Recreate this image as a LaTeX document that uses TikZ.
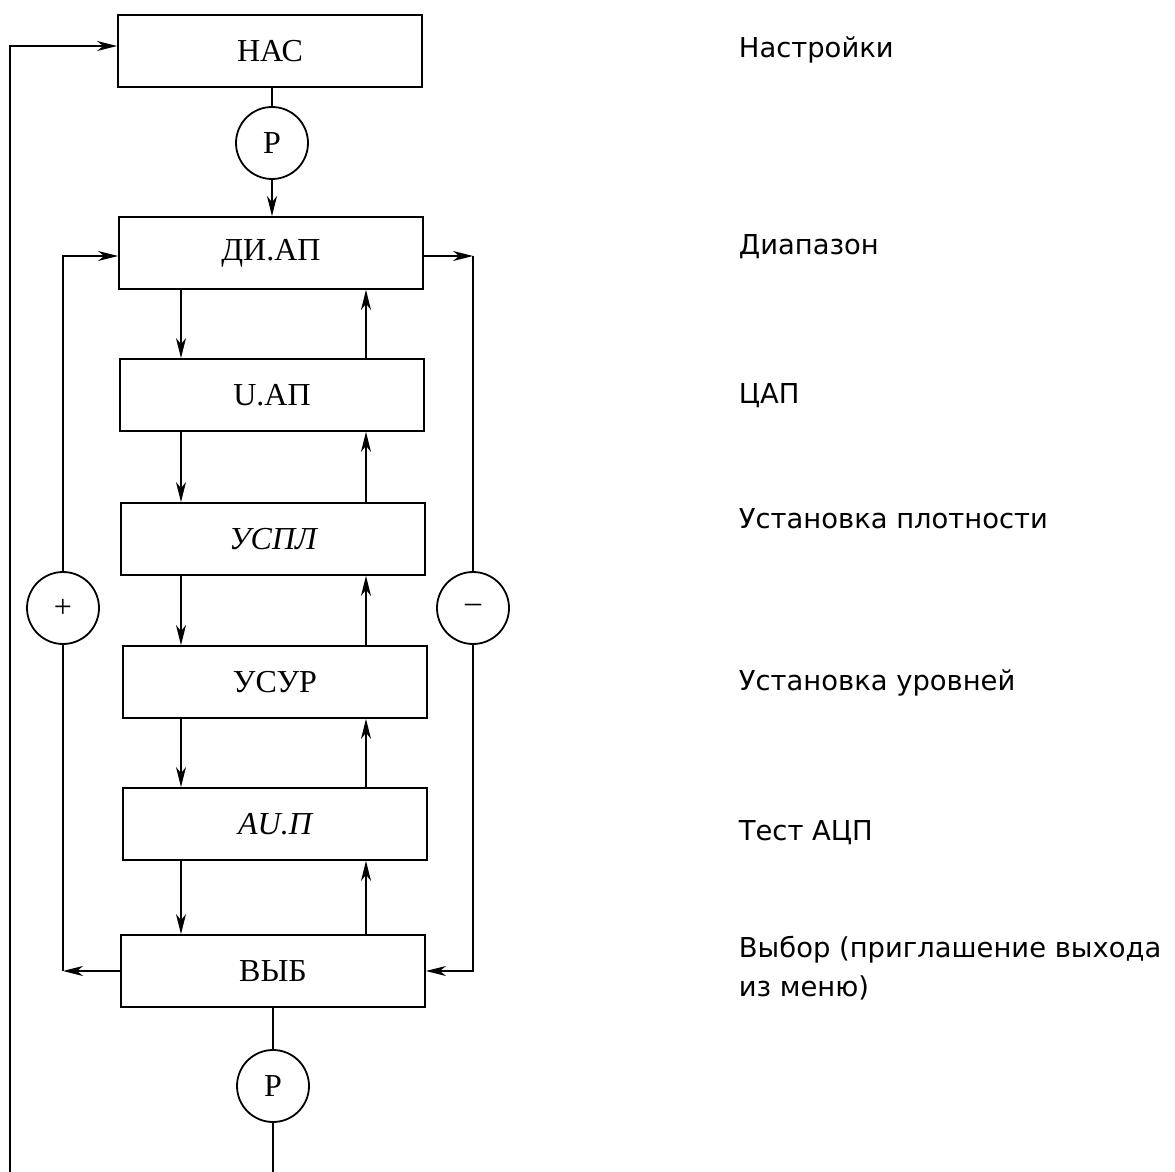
\documentclass[tikz,border=0pt]{standalone}
\usepackage{fontspec}
\setmainfont{Liberation Serif}
\newfontfamily\labfont{DejaVu Sans}
\usetikzlibrary{arrows.meta,calc}
\tikzset{
  box/.style={draw, line width=0.9pt, minimum width=152pt, minimum height=36pt, inner sep=0pt, font=\fontsize{16}{18}\selectfont},
  circ/.style={draw, circle, line width=0.9pt, minimum size=36pt, inner sep=0pt, font=\fontsize{16}{18}\selectfont},
  lab/.style={anchor=base west, inner sep=0pt, font=\labfont\fontsize{13.7}{19.5}\selectfont, align=left},
  arr/.style={-{Stealth[length=10pt,width=5pt,inset=3pt]}},
}
\begin{document}
\begin{tikzpicture}[x=0.5pt,y=-0.5pt, line width=0.9pt]
\useasboundingbox (0,0) rectangle (1175,1172);
\clip (0,0) rectangle (1175,1172);
% boxes
\node[box] (nac)  at (270,51)  {НАС};
\node[circ] (p1)  at (272,143) {P};
\node[box] (diap) at (271,253) {ДИ.АП};
\node[box] (uap)  at (272,395) {U.АП};
\node[box] (uspl) at (273,539) {\itshape УСПЛ};
\node[box] (usur) at (275,682) {УСУР};
\node[box] (aup)  at (275,824) {\itshape AU.П};
\node[box] (vyb)  at (273,971) {ВЫБ};
\node[circ] (p2)  at (273,1086) {P};
\node[circ] (plus)  at (63,608)  {+};
\node[circ] (minus) at (473,608) {–};
% helper coordinates
\coordinate (dx) at (181,0);
\coordinate (ux) at (366,0);
\coordinate (lt) at (63,256);
\coordinate (lb) at (63,971);
\coordinate (rt) at (473,256);
\coordinate (rb) at (473,971);
\coordinate (ot) at (10,46);
\coordinate (ob) at (10,1200);
% main column
\draw (p1) -- (p1 |- nac.south);
\draw[arr] (p1) -- (p1 |- diap.north);
\draw[arr] (diap.south -| dx) -- (uap.north -| dx);
\draw[arr] (uap.north -| ux) -- (diap.south -| ux);
\draw[arr] (uap.south -| dx) -- (uspl.north -| dx);
\draw[arr] (uspl.north -| ux) -- (uap.south -| ux);
\draw[arr] (uspl.south -| dx) -- (usur.north -| dx);
\draw[arr] (usur.north -| ux) -- (uspl.south -| ux);
\draw[arr] (usur.south -| dx) -- (aup.north -| dx);
\draw[arr] (aup.north -| ux) -- (usur.south -| ux);
\draw[arr] (aup.south -| dx) -- (vyb.north -| dx);
\draw[arr] (vyb.north -| ux) -- (aup.south -| ux);
% plus loop
\draw[arr] (vyb) -- (lb);
\draw (lb) -- (plus);
\draw[arr] (plus) -- (lt) -- (lt -| diap.west);
% minus loop
\draw[arr] (rt -| diap.east) -- (rt);
\draw (rt) -- (minus);
\draw[arr] (minus) -- (rb) -- (rb -| vyb.east);
% outer loop
\draw (vyb) -- (p2);
\draw[arr] (p2) -- (p2 |- ob) -- (ob) -- (ot) -- (ot -| nac.west);
% labels
\node[lab] (l1) at (738,58)  {Настройки};
\node[lab] (l2) at (738,255) {Диапазон};
\node[lab] (l3) at (738,403) {ЦАП};
\node[lab] (l4) at (738,529) {Установка плотности};
\node[lab] (l5) at (738,690) {Установка уровней};
\node[lab] (l6) at (738,840) {Тест АЦП};
\node[lab] (l7) at (738,996) {Выбор (приглашение выхода\\из меню)};
\end{tikzpicture}
\end{document}
